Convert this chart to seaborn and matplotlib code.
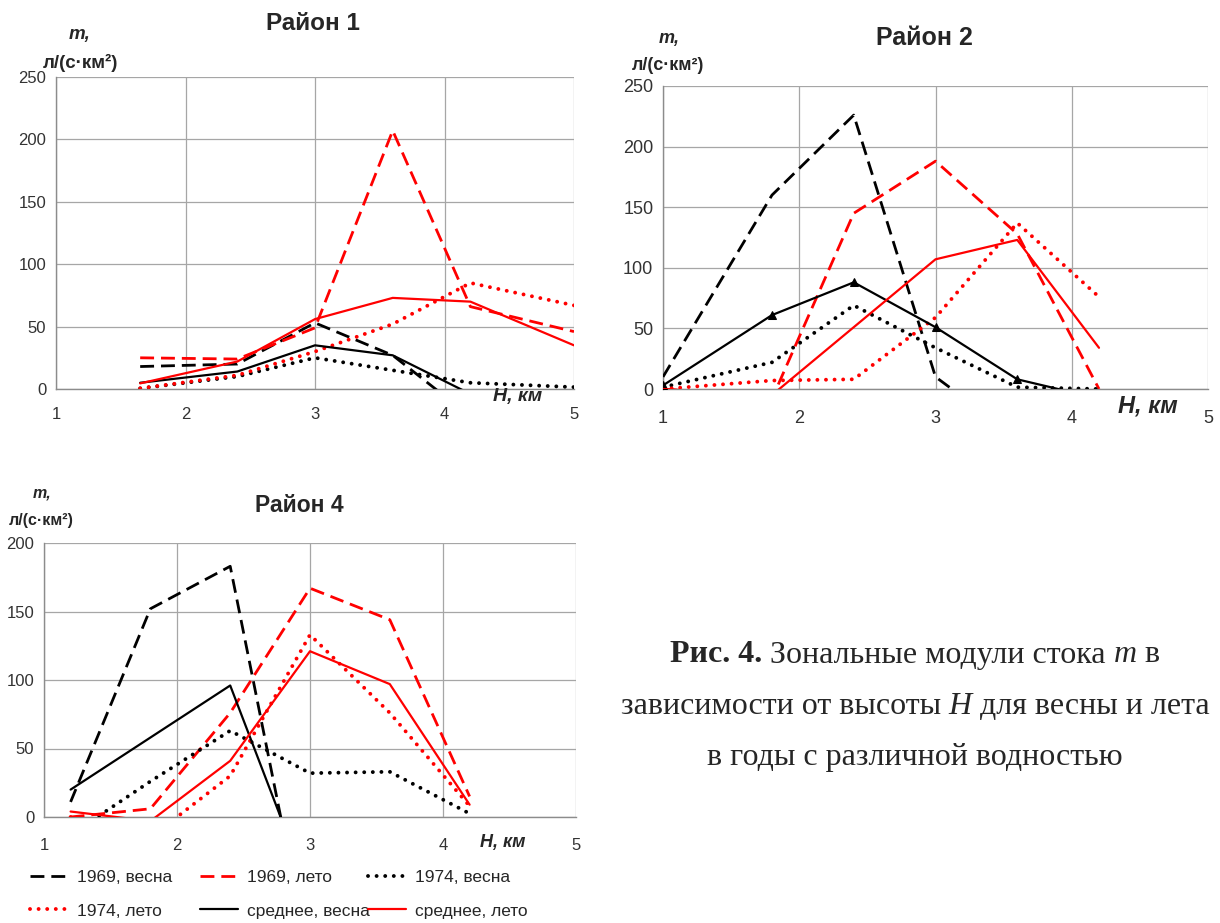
import matplotlib
matplotlib.use("Agg")
import matplotlib.pyplot as plt
from matplotlib import font_manager
import numpy as np
import pandas as pd
import seaborn as sns

nan = np.nan

SERIES = ["1969, весна", "1969, лето", "1974, весна",
          "1974, лето", "среднее, весна", "среднее, лето"]

# Район 1
h_r1 = [1.65, 2.4, 3.0, 3.6, 4.2, 5.0]
r1_1969_spring = [18, 20, 53, 27, -22, nan]
r1_1969_summer = [25, 24, 49, 207, 66, 46]
r1_1974_spring = [0.5, 10, 25, 15, 5, 1.5]
r1_1974_summer = [0.5, 11, 30, 52, 85, 67]
r1_mean_spring = [5, 14, 35, 27, -4, nan]
r1_mean_summer = [4.5, 22, 56, 73, 70, 35]

# Район 2
h_r2 = [1.0, 1.8, 2.4, 3.0, 3.6, 4.2]
r2_1969_spring = [10, 160, 226, 10, -40, nan]
r2_1969_summer = [0, -8, 145, 188, 128, 0]
r2_1974_spring = [1.5, 22, 69, 34, 1.5, 0]
r2_1974_summer = [0, 7, 8, 59, 137, 76]
r2_mean_spring = [3, 61, 88, 51, 8, -8]
r2_mean_summer = [0, -5, 51, 107, 123, 34]

# Район 4
h_r4 = [1.2, 1.8, 2.4, 3.0, 3.6, 4.2]
r4_1969_spring = [11, 152, 183, -106, nan, nan]
r4_1969_summer = [0, 6, 76, 167, 144, 15]
r4_1974_spring = [-13, 26, 63, 32, 33, 2.5]
r4_1974_summer = [0, -15, 30, 133, 76, 8]
r4_mean_spring = [20, 58, 96, -56, nan, nan]
r4_mean_summer = [4, -3, 41, 121, 97, 9]

W, H = 1220, 923
GRID = "#a6a6a6"
TICKC = "#333333"
DASH = (0, (5, 2.5))
DOT = (0, (0.01, 2.2))

STYLE = {
    "1969, весна": dict(color="black", lw=2.0, ls=DASH, cap="butt"),
    "1969, лето": dict(color="red", lw=2.0, ls=DASH, cap="butt"),
    "1974, весна": dict(color="black", lw=2.8, ls=DOT, cap="round"),
    "1974, лето": dict(color="red", lw=2.8, ls=DOT, cap="round"),
    "среднее, весна": dict(color="black", lw=1.6, ls="-", cap="butt"),
    "среднее, лето": dict(color="red", lw=1.6, ls="-", cap="butt"),
}

names = {f.name for f in font_manager.fontManager.ttflist}
NARROW = "Liberation Sans Narrow" if "Liberation Sans Narrow" in names else "Liberation Sans"


def fx(px):
    return px / W


def fy(py):
    return 1 - py / H


def long_table(h, cols):
    rows = []
    for name, vals in zip(SERIES, cols):
        for x, y in zip(h, vals):
            rows.append({"H": x, "m": y, "series": name})
    return pd.DataFrame(rows)


def draw(ax, df, marker_series=None):
    for name in SERIES:
        st = STYLE[name]
        sub = df[df["series"] == name].dropna()
        extra = {}
        if name == marker_series:
            extra = dict(marker="^", markersize=6, markeredgecolor="black",
                         markerfacecolor="black")
        sns.lineplot(data=sub, x="H", y="m", ax=ax, color=st["color"],
                     linewidth=st["lw"], linestyle=st["ls"],
                     dash_capstyle=st["cap"], estimator=None, errorbar=None,
                     legend=False, zorder=3, **extra)


def setup(ax, ymax, font, size, xpad):
    ax.set_xlim(1, 5)
    ax.set_ylim(0, ymax)
    ax.set_xticks([1, 2, 3, 4, 5])
    ax.set_yticks(np.arange(0, ymax + 1, 50))
    ax.set_xlabel("")
    ax.set_ylabel("")
    for s in ["top", "right"]:
        ax.spines[s].set_visible(False)
    for s in ["left", "bottom"]:
        ax.spines[s].set_color("#8c8c8c")
        ax.spines[s].set_linewidth(1.0)
    ax.grid(True, color=GRID, lw=0.9)
    ax.set_axisbelow(True)
    ax.tick_params(colors="#8c8c8c", labelcolor=TICKC, length=4, width=0.9)
    ax.tick_params(axis="x", pad=xpad)
    ax.tick_params(axis="y", pad=3)
    for lab in ax.get_xticklabels() + ax.get_yticklabels():
        lab.set_fontfamily(font)
        lab.set_fontsize(size)


sns.set_style("white")
plt.rcParams["font.family"] = ["Liberation Sans", "DejaVu Sans"]

fig = plt.figure(figsize=(W / 100, H / 100), dpi=100)

ax1 = fig.add_axes([fx(56), fy(389), (574 - 56) / W, (389 - 77) / H])
ax2 = fig.add_axes([fx(663), fy(389), (1208 - 663) / W, (389 - 86) / H])
ax4 = fig.add_axes([fx(44), fy(817), (576 - 44) / W, (817 - 543) / H])

df1 = long_table(h_r1, [r1_1969_spring, r1_1969_summer, r1_1974_spring,
                        r1_1974_summer, r1_mean_spring, r1_mean_summer])
df2 = long_table(h_r2, [r2_1969_spring, r2_1969_summer, r2_1974_spring,
                        r2_1974_summer, r2_mean_spring, r2_mean_summer])
df4 = long_table(h_r4, [r4_1969_spring, r4_1969_summer, r4_1974_spring,
                        r4_1974_summer, r4_mean_spring, r4_mean_summer])

draw(ax1, df1)
draw(ax2, df2, marker_series="среднее, весна")
draw(ax4, df4)

setup(ax1, 250, "Liberation Sans", 12, 9)
setup(ax2, 250, NARROW, 13, 11)
setup(ax4, 200, NARROW, 12, 11)

# titles
fig.text(fx(313), fy(23), "Район 1", ha="center", va="center",
         fontsize=17.5, fontweight="bold")
fig.text(fx(924), fy(38), "Район 2", ha="center", va="center",
         fontsize=18, fontweight="bold", family=NARROW)
fig.text(fx(299), fy(505), "Район 4", ha="center", va="center",
         fontsize=16.5, fontweight="bold", family=NARROW)

# axis captions
for (xm, ym, xu, yu, fs, fam) in [(80, 34, 81, 63, 13.5, "Liberation Sans"),
                                  (669, 38, 668, 66, 13, NARROW),
                                  (42, 493, 41, 521, 11.5, NARROW)]:
    fig.text(fx(xm), fy(ym), "m,", ha="center", va="center", fontsize=fs,
             fontweight="bold", fontstyle="italic", family=fam)
    fig.text(fx(xu), fy(yu), "л/(с·км²)", ha="center", va="center",
             fontsize=fs, fontweight="bold", family=fam)

fig.text(fx(518), fy(397), "H, км", ha="center", va="center", fontsize=14,
         fontweight="bold", fontstyle="italic")
fig.text(fx(1148), fy(406), "H, км", ha="center", va="center", fontsize=17,
         fontweight="bold", fontstyle="italic", family=NARROW)
fig.text(fx(503), fy(843), "H, км", ha="center", va="center", fontsize=13,
         fontweight="bold", fontstyle="italic", family=NARROW)

# legend: three columns of two entries, as in the source
lines = ax4.get_lines()
handles = dict(zip(SERIES, lines[:len(SERIES)]))
for col, xpx in enumerate([30, 200, 368]):
    labs = [SERIES[col], SERIES[col + 3]]
    fig.legend([handles[l] for l in labs], labs, loc="upper left",
               bbox_to_anchor=(fx(xpx), fy(870)), frameon=False,
               borderpad=0, borderaxespad=0, handlelength=2.2,
               handletextpad=0.5, labelspacing=1.05,
               prop={"family": NARROW, "size": 12.5})

# figure caption, built from pieces so that bold / italic parts sit inline
renderer = fig.canvas.get_renderer()
CAP_KW = dict(fontsize=23, family="Liberation Serif")


def piece_width(s, **kw):
    t = fig.text(0, 0, s, **CAP_KW, **kw)
    w = t.get_window_extent(renderer).width
    t.remove()
    return w


space = piece_width("н н") - piece_width("нн")
cap = [
    [("Рис. 4.", {"fontweight": "bold"}), ("Зональные модули стока", {}),
     ("m", {"fontstyle": "italic"}), ("в", {})],
    [("зависимости от высоты", {}), ("H", {"fontstyle": "italic"}),
     ("для весны и лета", {})],
    [("в годы с различной водностью", {})],
]
for pieces, ypx in zip(cap, [655, 706, 757]):
    widths = [piece_width(s, **kw) for s, kw in pieces]
    total = sum(widths) + space * (len(pieces) - 1)
    x = 915 - total / 2
    for (s, kw), w in zip(pieces, widths):
        fig.text(fx(x), fy(ypx), s, ha="left", va="center", **CAP_KW, **kw)
        x += w + space

fig.savefig("out.png", dpi=100)
